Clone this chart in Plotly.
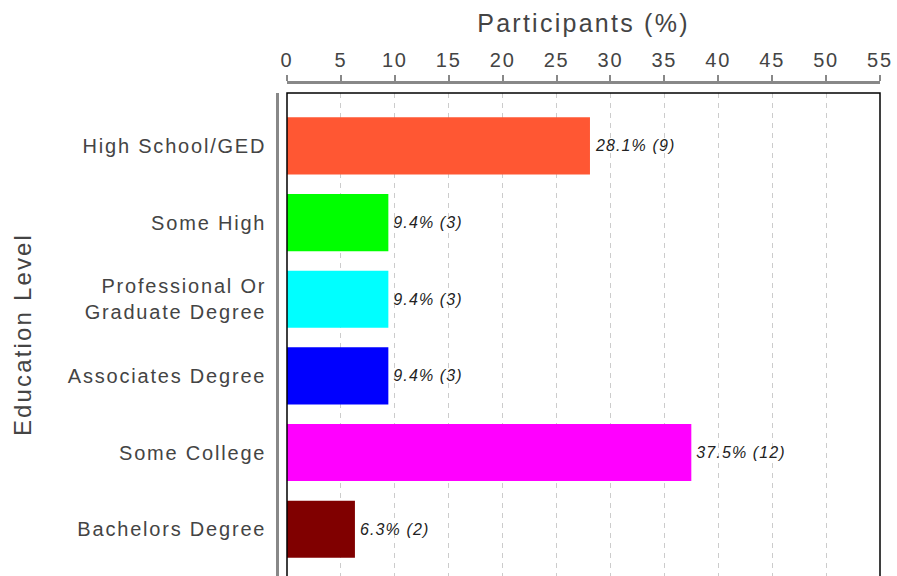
import plotly.graph_objects as go

categories = ["High School/GED", "Some High", "Professional Or<br>Graduate Degree",
              "Associates Degree", "Some College", "Bachelors Degree"]
percentages = [28.1, 9.4, 9.4, 9.4, 37.5, 6.3]
counts = [9, 3, 3, 3, 12, 2]
colors = ["#FF5733", "#00FF00", "#00FFFF", "#0000FF", "#FF00FF", "#800000"]
x_ticks = [0, 5, 10, 15, 20, 25, 30, 35, 40, 45, 50, 55]

labels = [f"{p:.1f}% ({c})" for p, c in zip(percentages, counts)]

W, H = 897, 576
ML, MR, MT, MB = 277, 17, 82, 0
pw = W - ML - MR
ph = H - MT - MB
x_dom0 = 10 / pw
y_dom1 = (H - 93) / ph

FONT = "Liberation Sans, Arial, sans-serif"

fig = go.Figure(go.Bar(
    y=categories, x=percentages, orientation="h",
    marker=dict(color=colors, line=dict(width=0)),
    width=0.745,
    text=labels, textposition="outside", constraintext="none",
    textfont=dict(family=FONT, size=16, color="#222", style="italic"),
    cliponaxis=False, hoverinfo="skip",
))

fig.update_layout(
    width=W, height=H,
    margin=dict(l=ML, r=MR, t=MT, b=MB, autoexpand=False),
    paper_bgcolor="white", plot_bgcolor="white",
    showlegend=False,
    font=dict(family=FONT, color="#444"),
    xaxis=dict(
        domain=[x_dom0, 1], range=[0, 55], side="top", anchor="free", position=1,
        tickvals=x_ticks, ticktext=[str(v) for v in x_ticks],
        showline=True, linecolor="#888", linewidth=2.5,
        ticks="outside", ticklen=6, tickwidth=2, tickcolor="#888",
        showgrid=True, gridcolor="#cccccc", gridwidth=1, griddash="5px,5px",
        zeroline=False, automargin=False, ticklabeloverflow="allow",
        tickfont=dict(size=20, color="#444"),
        title=dict(text="Participants (%)", font=dict(size=25, color="#444"), standoff=8),
    ),
    yaxis=dict(
        domain=[0, y_dom1], anchor="free", position=0,
        type="category", categoryorder="array", categoryarray=categories,
        range=[5.61, -0.69],
        showline=True, linecolor="#888", linewidth=2.5,
        ticks="", showgrid=False, zeroline=False, automargin=False,
        tickfont=dict(size=20, color="#444"),
        ticklabelstandoff=6,
        title=dict(text="Education Level", font=dict(size=24, color="#444"), standoff=58),
    ),
    shapes=[dict(type="rect", xref="paper", yref="paper",
                 x0=x_dom0, x1=1, y0=-0.2, y1=y_dom1,
                 line=dict(color="black", width=1.5), layer="above")],
)

post = """
document.documentElement.style.overflow = 'hidden';
document.body.style.overflow = 'hidden';
document.body.style.margin = '0';
document.querySelectorAll('.main-svg text').forEach(function(t){
  var isBar = t.classList.contains('bartext');
  var w0 = isBar ? t.getComputedTextLength() : 0;
  t.style.letterSpacing = isBar ? '0.07em' : '0.09em';
  if (isBar) {
    var w1 = t.getComputedTextLength();
    var x = parseFloat(t.getAttribute('x') || '0');
    t.setAttribute('x', x + (w1 - w0) / 2 + 2);
  }
});
"""
fig.write_html("out.html", post_script=post, config={"displayModeBar": False})
